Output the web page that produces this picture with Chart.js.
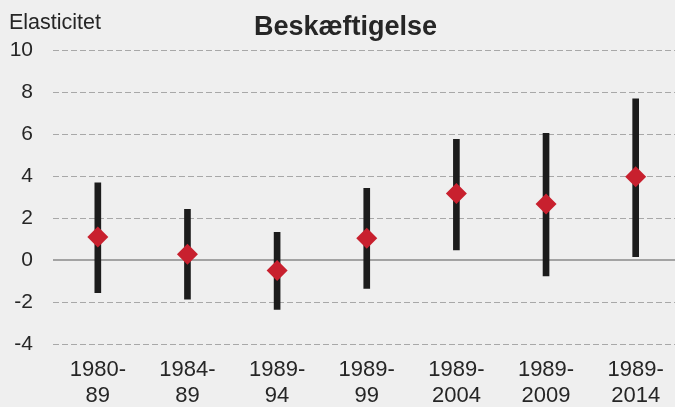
<!DOCTYPE html>
<html>
<head>
<meta charset="utf-8">
<script src="https://cdn.jsdelivr.net/npm/chart.js@4.4.0/dist/chart.umd.min.js"></script>
<style>
  html, body { margin: 0; padding: 0; background: #efefef; overflow: hidden; }
</style>
</head>
<body>
<canvas id="myChart" width="691" height="407"></canvas>
<script>
// periods, point estimates and the ends of each interval
const periods = [["1980-", "89"], ["1984-", "89"], ["1989-", "94"], ["1989-", "99"], ["1989-", "2004"], ["1989-", "2009"], ["1989-", "2014"]];
const estimate = [1.1, 0.27, -0.5, 1.03, 3.17, 2.67, 3.97];
const lower = [-1.56, -1.87, -2.35, -1.35, 0.48, -0.76, 0.16];
const upper = [3.67, 2.41, 1.32, 3.41, 5.75, 6.03, 7.67];

const textColor = "#262626";
const fontFamily = "'Liberation Sans', Arial, sans-serif";

// y label above the ticks, and a solid zero line under the bars
const extras = {
  id: "extras",
  beforeDatasetsDraw(chart) {
    const c = chart.ctx;
    const y0 = chart.scales.y.getPixelForValue(0);
    c.save();
    c.strokeStyle = "#8a8a8a";
    c.lineWidth = 1.6;
    c.beginPath();
    c.moveTo(chart.chartArea.left, y0);
    c.lineTo(chart.chartArea.right, y0);
    c.stroke();
    c.restore();
  },
  afterDraw(chart) {
    const c = chart.ctx;
    c.save();
    c.fillStyle = textColor;
    c.font = "21.5px " + fontFamily;
    c.textAlign = "left";
    c.textBaseline = "alphabetic";
    c.fillText("Elasticitet", 9, 29);
    c.restore();
  },
};

const ctx = document.getElementById("myChart").getContext("2d");
const myChart = new Chart(ctx, {
  data: {
    labels: periods,
    datasets: [
      {
        type: "line",
        data: estimate,
        showLine: false,
        pointStyle: "rectRot",
        pointRadius: 10.5,
        pointBackgroundColor: "#c8202e",
        pointBorderWidth: 0,
        order: 0,
      },
      {
        type: "bar",
        data: lower.map((v, i) => [v, upper[i]]),
        backgroundColor: "#1c1c1c",
        barThickness: 6,
        order: 1,
      },
    ],
  },
  options: {
    responsive: false,
    animation: false,
    layout: { padding: 0 },
    plugins: {
      legend: { display: false },
      tooltip: { enabled: false },
      title: {
        display: true,
        text: "Beskæftigelse",
        color: textColor,
        font: { family: fontFamily, size: 27, weight: "bold", lineHeight: 1.2 },
        padding: { top: 11, bottom: 6.6 },
      },
    },
    scales: {
      x: {
        offset: true,
        grid: { display: false, drawTicks: false },
        border: { display: false },
        ticks: {
          color: textColor,
          font: { family: fontFamily, size: 22, lineHeight: 1.18 },
          padding: 13,
          maxRotation: 0,
          autoSkip: false,
        },
        afterFit(scale) {
          scale.height = 63;
          scale.paddingLeft = 0;
          scale.paddingRight = 0;
        },
      },
      y: {
        min: -4,
        max: 10,
        grid: {
          drawTicks: false,
          color: (c) => (c.tick.value === 0 ? "rgba(0,0,0,0)" : "#a8a8a8"),
          lineWidth: 1,
        },
        border: { display: false, dash: [6, 3] },
        ticks: {
          stepSize: 2,
          color: textColor,
          font: { family: fontFamily, size: 21 },
          padding: 20,
        },
        afterFit(scale) {
          scale.width = 53;
        },
      },
    },
  },
  plugins: [extras],
});
</script>
</body>
</html>
